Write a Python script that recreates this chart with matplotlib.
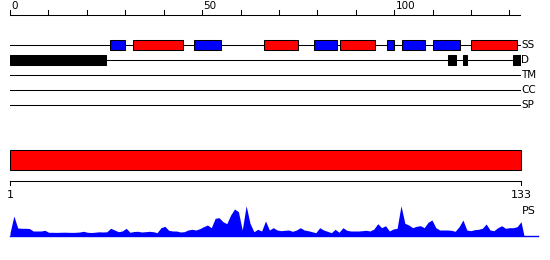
"""
Protein feature overview: secondary structure, disorder, TM/CC/SP tracks
and per-residue PS profile.
"""
import matplotlib
matplotlib.use("Agg")
import matplotlib.pyplot as plt
from matplotlib.patches import Rectangle

plt.rcParams["font.family"] = "DejaVu Sans"
plt.rcParams["font.size"] = 7.5

# --- Data ---
seq_len = 133
helix = [(32, 45), (66, 75), (86, 95), (120, 132)]                     # red boxes
strand = [(26, 30), (48, 55), (79, 85), (98, 100), (102, 108), (110, 117)]  # blue boxes
disorder = [(0, 25), (114, 116), (118, 119), (131, 133)]
track_names = ["SS", "D", "TM", "CC", "SP"]
top_ticks = list(range(0, 131, 10))
top_labels = [0, 50, 100]

ps = [3, 20, 8, 7.7, 7.7, 7.5, 5, 5, 5, 5.7,
      3.7, 3.7, 3.6, 3.7, 3.8, 3.7, 3.6, 3.7, 4.0, 4.7,
      3.7, 3.5, 3.8, 4.2, 4.0, 4.2, 7.7, 6.0, 4.3, 5.0,
      7.7, 3.7, 4.5, 4.7, 4.0, 4.3, 4.7, 4.3, 3.3, 8.3,
      9.7, 5.7, 5.0, 5.0, 4.0, 4.3, 6.0, 6.7, 6.0, 7.3,
      9.3, 11.0, 8.3, 17.7, 18.3, 14.3, 12.3, 21.0, 27.0, 24.3,
      6.0, 30.3, 12.7, 4.3, 6.7, 5.0, 15.0, 6.0, 8.3, 6.0,
      5.3, 5.7, 6.0, 4.7, 6.0, 8.3, 6.0, 5.3, 4.3, 3.3,
      8.3, 6.0, 4.7, 3.3, 6.7, 3.7, 8.3, 5.7, 5.0, 5.0,
      5.0, 5.3, 5.7, 5.0, 7.0, 12.3, 8.3, 10.3, 5.0, 7.0,
      7.7, 30.3, 12.7, 11.0, 8.3, 9.7, 10.3, 8.3, 13.7, 16.0,
      8.3, 6.0, 6.0, 6.0, 5.7, 4.7, 9.3, 16.0, 6.0, 5.3,
      6.3, 6.7, 7.7, 12.0, 6.0, 5.3, 8.3, 10.3, 7.7, 8.3,
      8.3, 9.3, 14.3]
residues = list(range(1, len(ps) + 1))

W, H = 550, 260
fig = plt.figure(figsize=(W / 100, H / 100), dpi=100)
lw = 0.75


def px_axes(x0, x1, y0, y1):
    return fig.add_axes([x0 / W, 1 - y1 / H, (x1 - x0) / W, (y1 - y0) / H])


# ============================================
# Top: ruler + feature tracks (rows 15 px apart)
# ============================================
ax = px_axes(10, 521, 0, 120)
ax.set_xlim(0, seq_len)
ax.set_ylim(8, 0)
ax.axis("off")

ax.plot([0, seq_len], [1, 1], color="black", lw=lw)
for t in top_ticks:
    ax.plot([t, t], [1, 0.67], color="black", lw=lw)
for t in top_labels:
    ax.text(t + 0.3, 0.6, str(t), ha="left", va="baseline")

for i, name in enumerate(track_names):
    row = 3 + i
    ax.plot([0, seq_len], [row, row], color="black", lw=lw, zorder=1)
    ax.text(seq_len + 0.05, row, name, ha="left", va="center")

for s, e in helix:
    ax.add_patch(Rectangle((s, 2.67), e - s, 0.67, facecolor="#ff0000",
                           edgecolor="black", lw=lw, zorder=2))
for s, e in strand:
    ax.add_patch(Rectangle((s, 2.67), e - s, 0.67, facecolor="#0000ff",
                           edgecolor="black", lw=lw, zorder=2))
for s, e in disorder:
    ax.add_patch(Rectangle((s, 3.67), e - s, 0.67, facecolor="black",
                           edgecolor="black", lw=lw, zorder=2))

# ============================================
# Bottom: domain bar + residue ruler
# ============================================
bx = px_axes(10, 521, 140, 200)
bx.set_xlim(1, seq_len)
bx.set_ylim(200, 140)
bx.axis("off")
bx.add_patch(Rectangle((1, 150), seq_len - 1, 20, facecolor="#ff0000",
                       edgecolor="black", lw=lw, clip_on=False))
bx.plot([1, seq_len], [181, 181], color="black", lw=lw, clip_on=False)
for t in [1, seq_len]:
    bx.plot([t, t], [181, 185], color="black", lw=lw, clip_on=False)
    bx.text(t, 195, str(t), ha="center", va="center", fontsize=8)

# ============================================
# PS profile
# ============================================
px = px_axes(10, 521, 200, 236)
px.set_xlim(1, seq_len)
px.set_ylim(0, 36)
px.axis("off")
px.fill_between(residues + [seq_len + 0.8], ps + [0], 0, color="#0000ff",
                lw=0, clip_on=False)
px.plot([1, seq_len + 4.4], [0, 0], color="#0000ff", lw=1, clip_on=False)
px.text(seq_len + 0.2, 25.5, "PS", ha="left", va="center", fontsize=8)

fig.savefig("out.png", dpi=100)
